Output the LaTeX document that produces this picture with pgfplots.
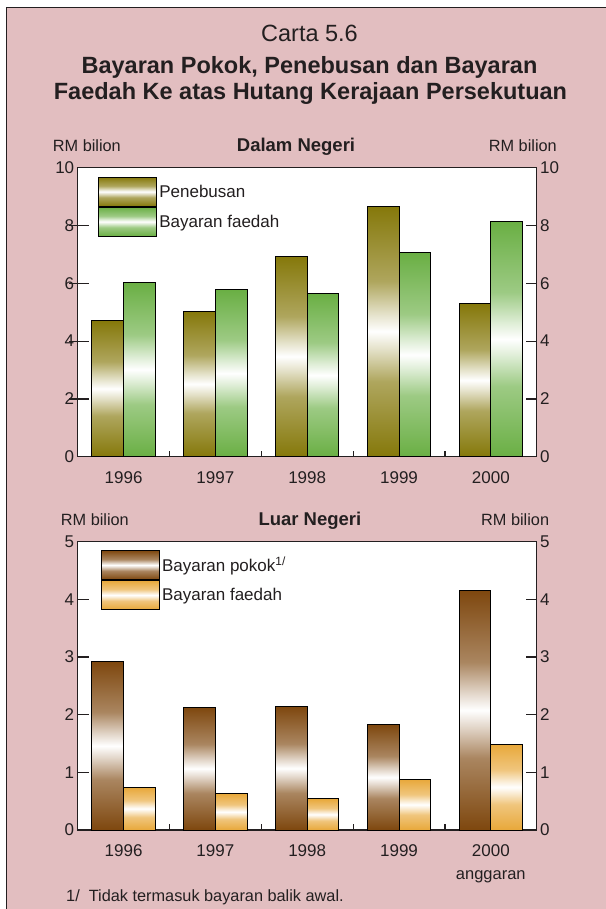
\documentclass[border=0pt]{standalone}
\usepackage{pgfplots}
\pgfplotsset{compat=1.18}
\usepackage{fontspec}
\setmainfont{Liberation Sans}
\definecolor{bgpink}{RGB}{226,190,192}
\definecolor{txt}{RGB}{35,31,32}
\definecolor{olivec}{RGB}{133,120,10}
\definecolor{greenc}{RGB}{106,175,68}
\definecolor{brownc}{RGB}{126,71,14}
\definecolor{orangec}{RGB}{232,168,58}
\newcommand{\mkshade}[2]{\pgfdeclareverticalshading{#1}{100bp}{color(0bp)=(#2); color(25bp)=(#2); color(40bp)=(#2!66!white); color(46.5bp)=(#2!22!white); color(50bp)=(white); color(53.5bp)=(#2!22!white); color(60bp)=(#2!66!white); color(75bp)=(#2); color(100bp)=(#2)}}
\mkshade{olsh}{olivec}
\mkshade{grsh}{greenc}
\mkshade{brsh}{brownc}
\mkshade{orsh}{orangec}
\newcommand{\fs}[1]{\fontsize{#1}{#1}\selectfont}
\pgfplotsset{
  common/.style={
    scale only axis, width=459pt,
    xmin=-0.5, xmax=4.5, ymin=0,
    axis background/.style={fill=white},
    axis line style={txt, line width=1.2pt},
    tick align=inside, major tick length=11pt,
    tick style={txt, line width=1.2pt},
    ticklabel style={font=\fs{17}, text=txt},
    /pgf/number format/assume math mode=true,
  },
  barax/.style={
    common,
    xtick={0,1,2,3,4},
    major x tick style={draw=none},
    minor xtick={0.5,1.5,2.5,3.5},
    minor tick length=6pt,
    xtick pos=left, ytick pos=left,
    xticklabel style={yshift=-11.5pt, align=center, font=\fontsize{17}{23}\selectfont},
    legend style={draw=none, fill=none, inner sep=0pt, outer sep=0pt, row sep=0pt,
      font=\fs{17}, text=txt, anchor=north west},
    legend cell align=left,
  },
  rightax/.style={
    common,
    hide x axis, axis y line*=right, axis background/.style={},
    yticklabel style={font=\fs{17}},
  },
  swatch/.style={draw=black, line width=1pt, shade, shading=#1,
    legend image code/.code={\draw[##1, line width=1pt, draw=black] (0pt,-14.5pt) rectangle (58pt,14.5pt);}},
  L/.style={ybar, bar width=31.7pt, bar shift=-15.85pt, draw=black, line width=1pt, shade, shading=#1, forget plot},
  R/.style={ybar, bar width=31.7pt, bar shift=15.85pt, draw=black, line width=1pt, shade, shading=#1, forget plot},
}
\begin{document}
\begin{tikzpicture}[x=1pt,y=1pt]
\useasboundingbox (0,0) rectangle (605,-909);
\fill[white] (0,0) rectangle (605,-909);
\filldraw[fill=bgpink, draw=txt, line width=1.5pt] (6.5,-7.5) rectangle (612,-920);
% titles
\node[anchor=base, text=txt, font=\fs{23.5}, inner sep=0pt] at (309.5,-42) {Carta 5.6};
\node[anchor=base, text=txt, font=\fs{23.5}\bfseries, inner sep=0pt] at (309.5,-73.5) {Bayaran Pokok, Penebusan dan Bayaran};
\node[anchor=base, text=txt, font=\fs{23.5}\bfseries, inner sep=0pt] at (310.5,-100) {Faedah Ke atas Hutang Kerajaan Persekutuan};
% panel titles
\node[anchor=base west, text=txt, font=\fs{16.3}, inner sep=0pt] at (52.7,-151.7) {RM bilion};
\node[anchor=base east, text=txt, font=\fs{16.3}, inner sep=0pt] at (557,-151.7) {RM bilion};
\node[anchor=base west, text=txt, font=\fs{18.5}\bfseries, inner sep=0pt] at (236.7,-152) {Dalam Negeri};
\node[anchor=base west, text=txt, font=\fs{16.3}, inner sep=0pt] at (60.7,-525) {RM bilion};
\node[anchor=base east, text=txt, font=\fs{16.3}, inner sep=0pt] at (549.3,-525) {RM bilion};
\node[anchor=base west, text=txt, font=\fs{18.5}\bfseries, inner sep=0pt] at (258.3,-525) {Luar Negeri};
% upper chart: Penebusan (left bars), Bayaran faedah (right bars)
\begin{axis}[barax, at={(77.7pt,-456.7pt)}, anchor=south west, height=289pt, ymax=10,
  ytick={0,2,4,6,8,10},
  extra y ticks={2,4,6,8}, extra y tick labels={},
  extra y tick style={tick align=outside, major tick length=8.4pt},
  xticklabels={1996,1997,1998,1999,2000},
  legend style={at={(0.0449,0.969)}}]
\addlegendimage{swatch=olsh}
\addlegendentry{Penebusan}
\addlegendimage{swatch=grsh}
\addlegendentry{Bayaran faedah}
\addplot[L=olsh] coordinates {(0,4.70)};
\addplot[L=olsh] coordinates {(1,5.03)};
\addplot[L=olsh] coordinates {(2,6.94)};
\addplot[L=olsh] coordinates {(3,8.67)};
\addplot[L=olsh] coordinates {(4,5.29)};
\addplot[R=grsh] coordinates {(0,6.03)};
\addplot[R=grsh] coordinates {(1,5.77)};
\addplot[R=grsh] coordinates {(2,5.64)};
\addplot[R=grsh] coordinates {(3,7.05)};
\addplot[R=grsh] coordinates {(4,8.13)};
\end{axis}
\begin{axis}[rightax, at={(77.7pt,-456.7pt)}, anchor=south west, height=289pt, ymax=10,
  ytick={0,2,4,6,8,10}]
\addplot[draw=none] coordinates {(0,0)};
\end{axis}
% lower chart: Bayaran pokok (left bars), Bayaran faedah (right bars)
\begin{axis}[barax, at={(77.7pt,-830pt)}, anchor=south west, height=288.3pt, ymax=5,
  ytick={0,1,2,3,4,5},
  xticklabels={1996,1997,1998,1999,{2000\\{\fontsize{16.5}{23}\selectfont anggaran}}},
  legend style={at={(0.0508,0.971)}}]
\addlegendimage{swatch=brsh}
\addlegendentry{Bayaran pokok\textsuperscript{1/}}
\addlegendimage{swatch=orsh}
\addlegendentry{Bayaran faedah}
\addplot[L=brsh] coordinates {(0,2.92)};
\addplot[L=brsh] coordinates {(1,2.13)};
\addplot[L=brsh] coordinates {(2,2.14)};
\addplot[L=brsh] coordinates {(3,1.83)};
\addplot[L=brsh] coordinates {(4,4.16)};
\addplot[R=orsh] coordinates {(0,0.74)};
\addplot[R=orsh] coordinates {(1,0.63)};
\addplot[R=orsh] coordinates {(2,0.54)};
\addplot[R=orsh] coordinates {(3,0.88)};
\addplot[R=orsh] coordinates {(4,1.49)};
\end{axis}
\begin{axis}[rightax, at={(77.7pt,-830pt)}, anchor=south west, height=288.3pt, ymax=5,
  ytick={0,1,2,3,4,5}]
\addplot[draw=none] coordinates {(0,0)};
\end{axis}
% footnote
\node[anchor=base west, text=txt, font=\fs{16.3}, inner sep=0pt] at (66,-901.7) {1/\ \ Tidak termasuk bayaran balik awal.};
\end{tikzpicture}
\end{document}
